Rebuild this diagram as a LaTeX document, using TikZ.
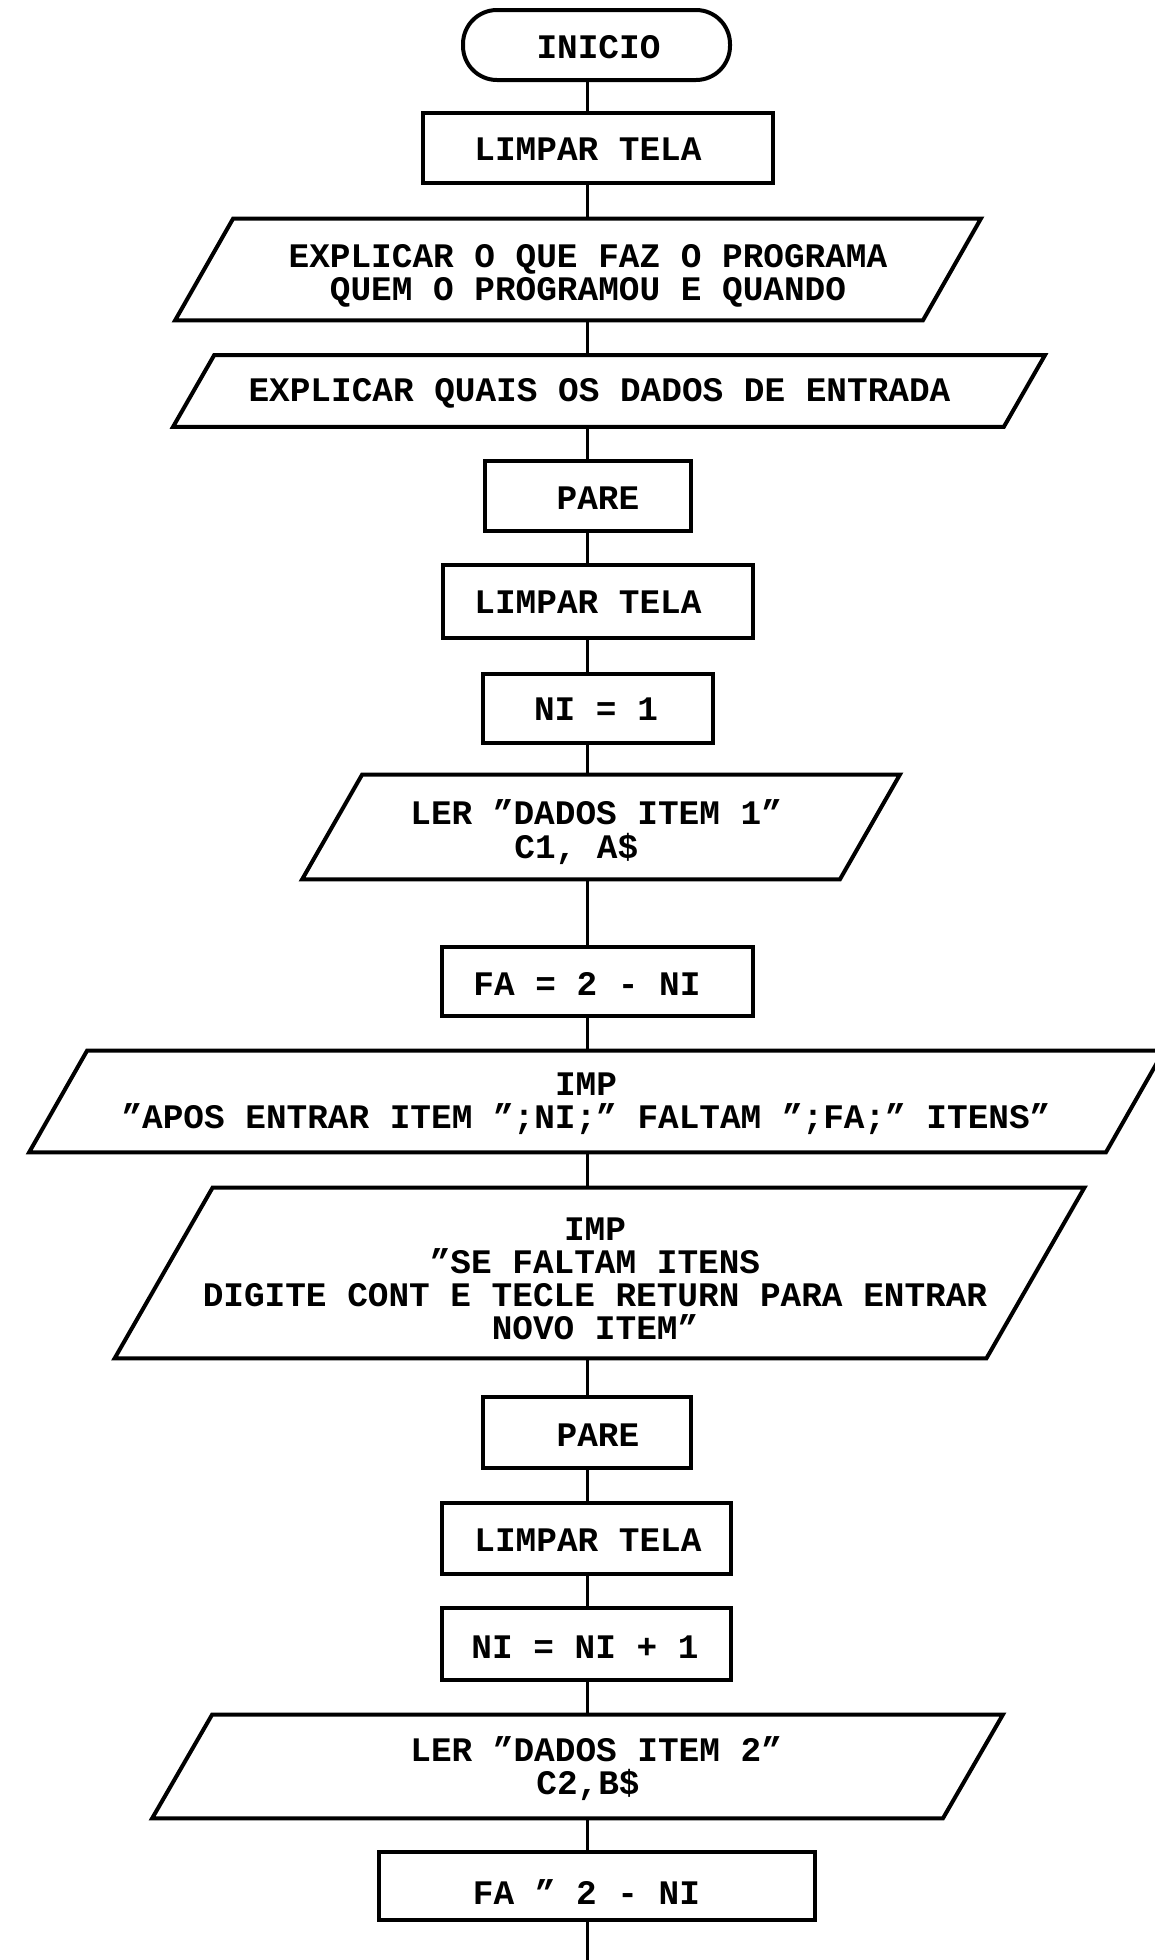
\documentclass[tikz,border=0pt]{standalone}
\usepackage{fontspec}
\newfontfamily\typefont{Liberation Mono}
\usetikzlibrary{calc}

% parallelogram (input/output) outline drawn around a named rectangle node
\newcommand\drawslant[2]{%
  \draw[line width=2pt]
    ([xshift=#2]#1.north west) -- ([xshift=#2]#1.north east)
    -- ([xshift=-#2]#1.south east) -- ([xshift=-#2]#1.south west) -- cycle;}

\begin{document}
\begin{tikzpicture}[x=0.5pt,y=-0.5pt,
  box/.style={draw, line width=2pt, rectangle, inner sep=0pt},
  term/.style={box, rounded corners=17pt},
  slot/.style={rectangle, inner sep=0pt},
  txt/.style={font=\typefont\bfseries\fontsize{17.2pt}{16.6pt}\selectfont,
              inner sep=0pt, align=center},
  flow/.style={line width=1.5pt}]

\useasboundingbox[fill=white] (0,0) rectangle (1155,1960);
\coordinate (spine) at (587,0);
\coordinate (tail) at (587,1960);

% ---- shapes ----
\node[term, minimum width=133.5pt, minimum height=35pt] (ini) at (596.5,45) {};
\node[box, minimum width=175pt, minimum height=35pt] (lt1) at (598,148) {};
\node[slot, minimum width=373.5pt, minimum height=50.5pt] (ex1) at (578,269.5) {};
\drawslant{ex1}{14.5pt}
\node[slot, minimum width=415pt, minimum height=35.5pt] (ex2) at (609,391) {};
\drawslant{ex2}{10.3pt}
\node[box, minimum width=103pt, minimum height=35pt] (pare1) at (588,496) {};
\node[box, minimum width=155pt, minimum height=36.5pt] (lt2) at (598,601.5) {};
\node[box, minimum width=115pt, minimum height=34.5pt] (ni1) at (598,708.5) {};
\node[slot, minimum width=268.5pt, minimum height=52pt] (ler1) at (601,827) {};
\drawslant{ler1}{15pt}
\node[box, minimum width=155.5pt, minimum height=34.5pt] (fa1) at (597.5,981.5) {};
\node[slot, minimum width=538pt, minimum height=50.5pt] (imp1) at (596.5,1101.5) {};
\drawslant{imp1}{14.5pt}
\node[slot, minimum width=435.5pt, minimum height=85pt] (imp2) at (599.5,1273) {};
\drawslant{imp2}{24.5pt}
\node[box, minimum width=104pt, minimum height=35.5pt] (pare2) at (587,1432.5) {};
\node[box, minimum width=144.5pt, minimum height=35.5pt] (lt3) at (586.5,1538.5) {};
\node[box, minimum width=144.5pt, minimum height=36pt] (ninc) at (586.5,1644) {};
\node[slot, minimum width=395pt, minimum height=51.5pt] (ler2) at (577.5,1766.5) {};
\drawslant{ler2}{15pt}
\node[box, minimum width=218pt, minimum height=34pt] (fa2) at (597,1886) {};

% ---- texts ----
\node[txt] (iniT) at (598.5,47) {INICIO};
\node[txt] (lt1T) at (588,149) {LIMPAR TELA};
\node[txt] (ex1T) at (588,276) {EXPLICAR O QUE FAZ O PROGRAMA\\QUEM O PROGRAMOU E QUANDO};
\node[txt] (ex2T) at (599.5,393) {EXPLICAR QUAIS OS DADOS DE ENTRADA};
\node[txt] (pare1T) at (598,498) {PARE};
\node[txt] (lt2T) at (588,602.5) {LIMPAR TELA};
\node[txt] (ni1T) at (596,709) {NI = 1};
\node[txt, align=left, anchor=west] (ler1T) at (410,832) {LER ”DADOS ITEM 1”\\\hspace*{52pt}C1, A\$};
\node[txt] (fa1T) at (587,983.5) {FA = 2 - NI};
\node[txt] (imp1T) at (586,1104) {IMP\\”APOS ENTRAR ITEM ”;NI;” FALTAM ”;FA;” ITENS”};
\node[txt] (imp2T) at (595,1279) {IMP\\”SE FALTAM ITENS\\DIGITE CONT E TECLE RETURN PARA ENTRAR\\NOVO ITEM”};
\node[txt] (pare2T) at (598,1435) {PARE};
\node[txt] (lt3T) at (588,1540) {LIMPAR TELA};
\node[txt] (nincT) at (585,1647) {NI = NI + 1};
\node[txt, align=left, anchor=west] (ler2T) at (410,1768.5) {LER ”DADOS ITEM 2”\\\hspace*{63pt}C2,B\$};
\node[txt] (fa2T) at (586.5,1892) {FA ” 2 - NI};

% ---- connectors along the main line ----
\draw[flow] (ini.south -| spine) -- (lt1.north -| spine);
\draw[flow] (lt1.south -| spine) -- (ex1.north -| spine);
\draw[flow] (ex1.south -| spine) -- (ex2.north -| spine);
\draw[flow] (ex2.south -| spine) -- (pare1.north -| spine);
\draw[flow] (pare1.south -| spine) -- (lt2.north -| spine);
\draw[flow] (lt2.south -| spine) -- (ni1.north -| spine);
\draw[flow] (ni1.south -| spine) -- (ler1.north -| spine);
\draw[flow] (ler1.south -| spine) -- (fa1.north -| spine);
\draw[flow] (fa1.south -| spine) -- (imp1.north -| spine);
\draw[flow] (imp1.south -| spine) -- (imp2.north -| spine);
\draw[flow] (imp2.south -| spine) -- (pare2.north -| spine);
\draw[flow] (pare2.south -| spine) -- (lt3.north -| spine);
\draw[flow] (lt3.south -| spine) -- (ninc.north -| spine);
\draw[flow] (ninc.south -| spine) -- (ler2.north -| spine);
\draw[flow] (ler2.south -| spine) -- (fa2.north -| spine);
\draw[flow] (fa2.south -| spine) -- (tail);
\end{tikzpicture}
\end{document}
